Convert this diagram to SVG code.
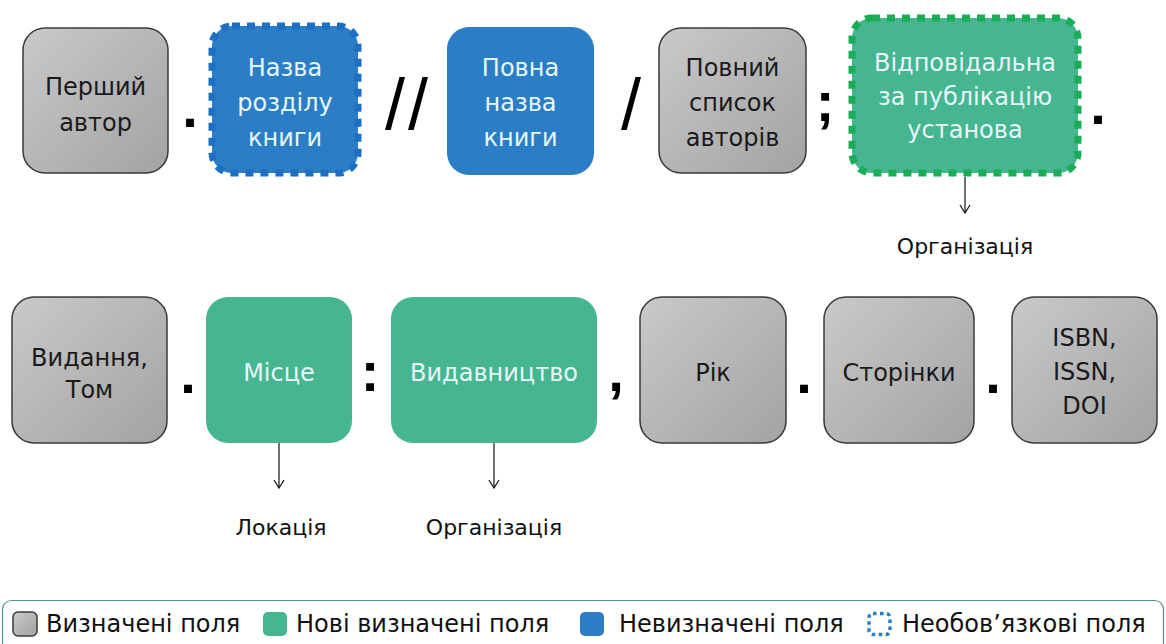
<svg xmlns="http://www.w3.org/2000/svg" width="1166" height="644" viewBox="0 0 1166 644">
<defs>
<linearGradient id="gg" x1="0" y1="0" x2="1" y2="1">
<stop offset="0" stop-color="#c9c9c9"/>
<stop offset="1" stop-color="#a3a3a3"/>
</linearGradient>
<marker id="ah" viewBox="0 0 10 12" refX="9" refY="6" markerWidth="10" markerHeight="12" markerUnits="userSpaceOnUse" orient="auto">
<polyline points="1,1 9,6 1,11" fill="none" stroke="#111" stroke-width="1.2"/>
</marker>
</defs>
<style>
.gray{fill:url(#gg);stroke:#3a3a3a;stroke-width:1.5}
.blue{fill:#2b7ec6}
.green{fill:#45b68f}
.dblue{fill:#2b7ec6;stroke:#1c6fc2;stroke-width:7;stroke-dasharray:8 7}
.dgreen{fill:#45b68f;stroke:#1aad57;stroke-width:7;stroke-dasharray:8 7}
.t{font-family:"DejaVu Sans",sans-serif;font-size:24px;text-anchor:middle}
.dk{fill:#1a1a1a}
.lt{fill:#e8f7fa}
.sep{font-family:"Liberation Sans",sans-serif;font-weight:bold;font-size:56px;text-anchor:middle;fill:#000}
.sl{font-family:"Liberation Sans",sans-serif;font-size:72px;text-anchor:middle;fill:#000}
.lab{font-family:"DejaVu Sans",sans-serif;font-size:22px;text-anchor:middle;fill:#111}
.leg{font-family:"DejaVu Sans",sans-serif;font-size:24px;fill:#111}
.conn{stroke:#111;stroke-width:1.2;fill:none}
</style>

<g id="n1"><rect class="gray" x="23" y="28" width="145" height="145" rx="22"/>
<text class="t dk" x="95.5" y="95">Перший</text><text class="t dk" x="95.5" y="131">автор</text></g>
<g id="n2"><rect class="dblue" x="212" y="26" width="146" height="147" rx="20"/>
<text class="t lt" x="285" y="76">Назва</text><text class="t lt" x="285" y="111">розділу</text><text class="t lt" x="285" y="146">книги</text></g>
<g id="n3"><rect class="blue" x="447" y="27" width="147" height="148" rx="22"/>
<text class="t lt" x="520.5" y="76">Повна</text><text class="t lt" x="520.5" y="111">назва</text><text class="t lt" x="520.5" y="146">книги</text></g>
<g id="n4"><rect class="gray" x="659" y="28" width="147" height="145" rx="22"/>
<text class="t dk" x="732.5" y="76">Повний</text><text class="t dk" x="732.5" y="111">список</text><text class="t dk" x="732.5" y="146">авторів</text></g>
<g id="n5"><rect class="dgreen" x="852" y="18" width="226" height="155" rx="20"/>
<text class="t lt" x="965" y="71">Відповідальна</text><text class="t lt" x="965" y="105">за публікацію</text><text class="t lt" x="965" y="138">установа</text></g>

<g id="n6"><rect class="gray" x="12" y="297" width="155" height="146" rx="22"/>
<text class="t dk" x="89.5" y="366">Видання,</text><text class="t dk" x="89.5" y="398">Том</text></g>
<g id="n7"><rect class="green" x="206" y="297" width="146" height="146" rx="22"/>
<text class="t lt" x="279" y="381">Місце</text></g>
<g id="n8"><rect class="green" x="391" y="297" width="206" height="146" rx="22"/>
<text class="t lt" x="494" y="381">Видавництво</text></g>
<g id="n9"><rect class="gray" x="640" y="297" width="146" height="146" rx="22"/>
<text class="t dk" x="713" y="381">Рік</text></g>
<g id="n10"><rect class="gray" x="824" y="297" width="150" height="146" rx="22"/>
<text class="t dk" x="899" y="381">Сторінки</text></g>
<g id="n11"><rect class="gray" x="1012" y="297" width="145" height="146" rx="22"/>
<text class="t dk" x="1084.5" y="346">ISBN,</text><text class="t dk" x="1084.5" y="380">ISSN,</text><text class="t dk" x="1084.5" y="414">DOI</text></g>

<g id="separators">
<text class="sep" x="190" y="127">.</text>
<text class="sl" x="395 418" y="129">//</text>
<text class="sl" x="631" y="129">/</text>
<text class="sep" x="825" y="121">;</text>
<text class="sep" x="1098" y="124">.</text>
<text class="sep" x="188" y="393">.</text>
<text class="sep" x="370" y="391">:</text>
<text class="sep" x="616" y="391">,</text>
<text class="sep" x="804" y="393">.</text>
<text class="sep" x="993" y="393">.</text>
</g>

<g id="connectors">
<line class="conn" x1="965" y1="177" x2="965" y2="213" marker-end="url(#ah)"/>
<line class="conn" x1="279" y1="443" x2="279" y2="488" marker-end="url(#ah)"/>
<line class="conn" x1="494" y1="443" x2="494" y2="488" marker-end="url(#ah)"/>
</g>

<g id="labels">
<text class="lab" x="965" y="254">Організація</text>
<text class="lab" x="281" y="535">Локація</text>
<text class="lab" x="494" y="535">Організація</text>
</g>

<g id="legend">
<rect x="2.5" y="600.5" width="1161" height="70" rx="9" fill="#fff" stroke="#5b8c8f" stroke-width="1.2"/>
<rect class="gray" x="13" y="612" width="24" height="24" rx="5"/>
<text class="leg" x="46" y="632">Визначені поля</text>
<rect class="green" x="263" y="612" width="24" height="24" rx="5"/>
<text class="leg" x="296" y="632">Нові визначені поля</text>
<rect class="blue" x="580" y="612" width="24" height="24" rx="5"/>
<text class="leg" x="619" y="632">Невизначені поля</text>
<rect x="869" y="613.5" width="21" height="21" rx="4" fill="none" stroke="#2b7ec6" stroke-width="3.5" stroke-dasharray="3.5 3.5"/>
<text class="leg" x="902" y="632">Необов’язкові поля</text>
</g>
</svg>
